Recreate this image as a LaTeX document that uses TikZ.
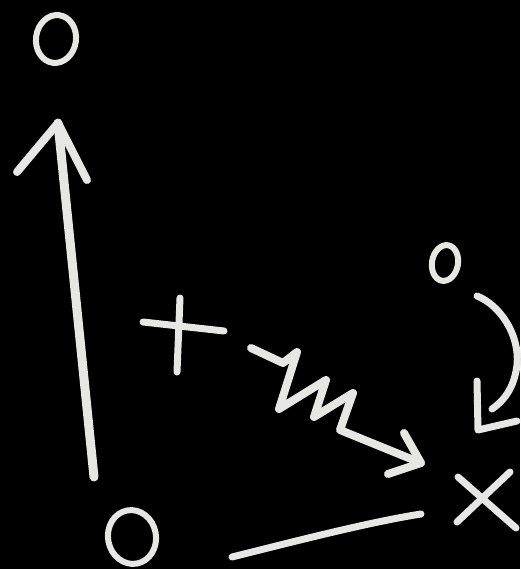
\documentclass[tikz,border=0pt]{standalone}
\usetikzlibrary{shapes.geometric}
\definecolor{chalk}{HTML}{E6E6E2}
\tikzset{
  chalkline/.style={draw=chalk, line width=7pt, line cap=round, line join=round},
  chalkzero/.style={ellipse, draw=chalk, line width=6pt, inner sep=0pt},
}
\begin{document}
\begin{tikzpicture}[x=1pt,y=-1pt]
  \fill[black] (0,0) rectangle (520,569);
  \useasboundingbox (0,0) rectangle (520,569);
  % zeros
  \node[chalkzero, minimum width=40pt, minimum height=48pt, rotate=-8] (zTop) at (56,39) {};
  \node[chalkzero, minimum width=26pt, minimum height=36pt, rotate=-10] (zRight) at (445,263) {};
  \node[chalkzero, minimum width=48pt, minimum height=54pt, rotate=10] (zBottom) at (132,537) {};
  % long vertical arrow
  \coordinate (shaftBot) at (94,477);
  \coordinate (shaftTip) at (58,123);
  \coordinate (headL) at (17,172);
  \coordinate (headR) at (87,180);
  \draw[chalkline, line width=9pt] (shaftBot) -- (shaftTip);
  \draw[chalkline, line width=8pt] (headL) -- (shaftTip) -- (headR);
  % plus
  \coordinate (plusT) at (180,298);
  \coordinate (plusB) at (177,372);
  \coordinate (plusL) at (143,322);
  \coordinate (plusR) at (224,331);
  \draw[chalkline] (plusT) -- (plusB);
  \draw[chalkline] (plusL) -- (plusR);
  % wavy arrow
  \coordinate (wStart) at (251,348);
  \coordinate (wTip) at (421,463);
  \coordinate (wHeadA) at (404,433);
  \coordinate (wHeadB) at (388,474);
  \draw[chalkline, line width=8pt] (wStart) -- (283,363) -- (297,352) -- (279,409)
     -- (326,380) -- (314,417) -- (353,393) -- (340,430) -- (wTip);
  \draw[chalkline, line width=8pt] (wHeadA) -- (wTip) -- (wHeadB);
  % curved arrow
  \coordinate (cStart) at (477,296);
  \coordinate (cEnd) at (492,409);
  \coordinate (cCorner) at (478,430);
  \coordinate (cUp) at (477,381);
  \coordinate (cRight) at (517,421);
  \draw[chalkline] (cStart) .. controls (500,305) and (520,335) .. (517,365)
     .. controls (514,390) and (502,402) .. (cEnd);
  \draw[chalkline] (cUp) -- (cCorner) -- (cRight);
  % X
  \coordinate (xA) at (458,477);
  \coordinate (xB) at (516,528);
  \coordinate (xC) at (510,472);
  \coordinate (xD) at (457,522);
  \draw[chalkline] (xA) -- (xB);
  \draw[chalkline] (xC) -- (xD);
  % bottom line
  \coordinate (lStart) at (232,557);
  \coordinate (lEnd) at (421,514);
  \draw[chalkline] (lStart) .. controls (300,540) and (370,522) .. (lEnd);
\end{tikzpicture}
\end{document}
